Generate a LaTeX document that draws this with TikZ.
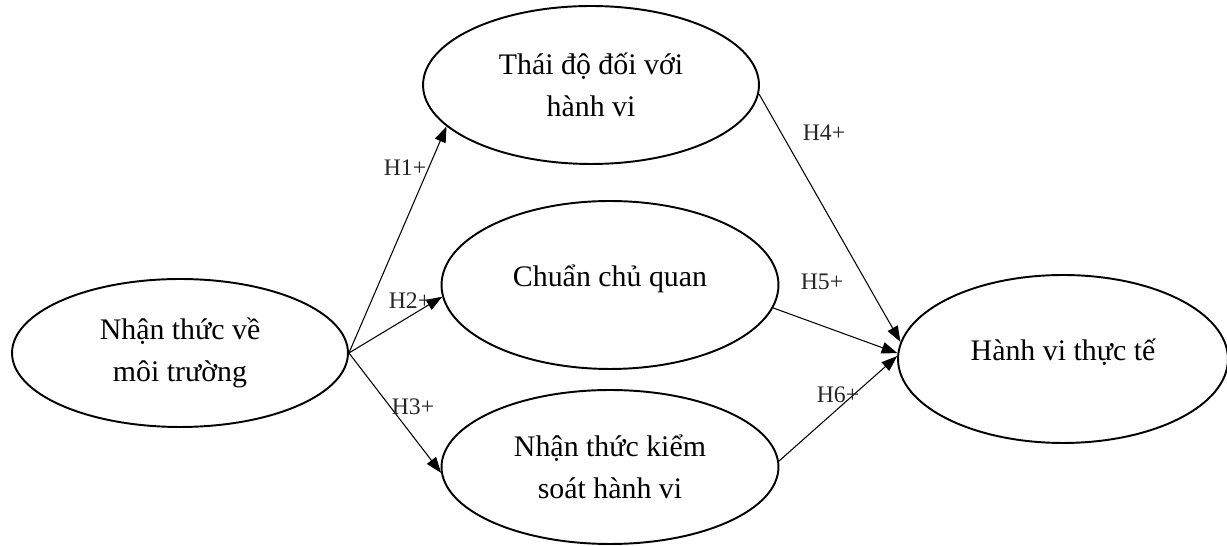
\documentclass[tikz,border=0pt]{standalone}
\usepackage{fontspec}
\setmainfont{Liberation Serif}
\usetikzlibrary{shapes.geometric,arrows.meta}

\begin{document}
\begin{tikzpicture}[
    x=0.02cm, y=-0.02cm,
    construct/.style={ellipse, draw, line width=1.1pt, inner sep=0pt, align=center, font=\fontsize{17}{24}\selectfont},
    link/.style={-{Triangle[length=9pt,width=6.5pt]}, line width=0.6pt},
    hyp/.style={font=\fontsize{13.5}{15}\selectfont, inner sep=0pt, text=black!85}
]
    \useasboundingbox (0,0) rectangle (1227,546);

    % Constructs
    \node[construct, minimum width=6.72cm, minimum height=2.96cm] (env) at (180,353) {Nhận thức về\\môi trường};
    \node[construct, minimum width=6.72cm, minimum height=3.16cm] (att) at (591,85) {Thái độ đối với\\hành vi};
    \node[construct, minimum width=6.74cm, minimum height=3.36cm, text depth=11pt] (norm) at (610,285) {Chuẩn chủ quan};
    \node[construct, minimum width=6.74cm, minimum height=3.08cm] (pbc) at (610,467) {Nhận thức kiểm\\soát hành vi};
    \node[construct, minimum width=6.6cm, minimum height=3.36cm, text depth=11pt] (act) at (1063,359) {Hành vi thực tế};

    % Hypotheses H1-H3
    \draw[link] (env.east) -- (att.196);
    \draw[link] (env.east) -- (norm.184);
    \draw[link] (env.east) -- (pbc.182);

    % Hypotheses H4-H6
    \draw[link] (att.357) -- (act.174);
    \draw[link] (norm.352) -- (act.178);
    \draw[link] (pbc.2) -- (act.179);

    % Labels
    \node[hyp] (h1) at (405,168) {H1+};
    \node[hyp] (h2) at (410,301) {H2+};
    \node[hyp] (h3) at (413,407) {H3+};
    \node[hyp] (h4) at (824,133) {H4+};
    \node[hyp] (h5) at (822,282) {H5+};
    \node[hyp] (h6) at (838,395) {H6+};

\end{tikzpicture}
\end{document}
